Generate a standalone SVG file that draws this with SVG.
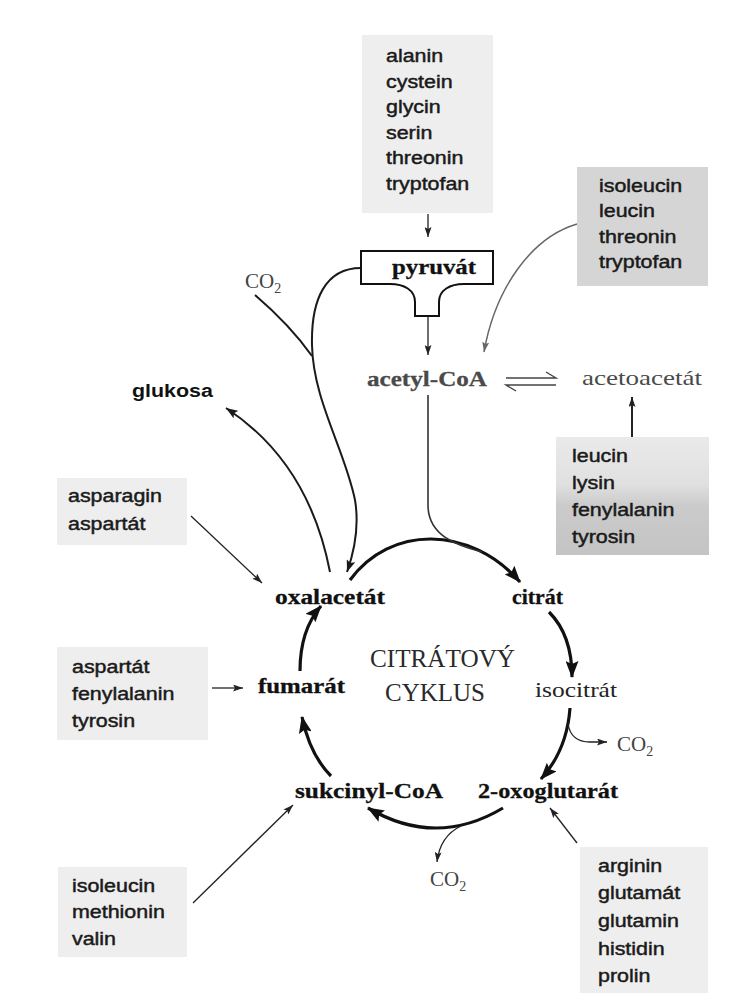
<svg xmlns="http://www.w3.org/2000/svg" width="753" height="994" viewBox="0 0 753 994">
  <style>
    .aa { font-family: "Liberation Sans", Arial, sans-serif; font-size: 18px; fill: #1a1a1a; stroke: #1a1a1a; stroke-width: 0.45; }
    .aab { font-family: "Liberation Sans", Arial, sans-serif; font-size: 18px; font-weight: bold; fill: #111; }
    .met { font-family: "Liberation Serif", "Times New Roman", serif; font-size: 22px; font-weight: bold; fill: #111; stroke: #111; stroke-width: 0.3; }
    .metr { font-family: "Liberation Serif", "Times New Roman", serif; font-size: 22px; fill: #222; }
    .grey { fill: #4a4a4a; stroke: #4a4a4a; }
    .greytxt { fill: #4a4a4a; }
    .co2 { font-family: "Liberation Serif", "Times New Roman", serif; font-size: 21px; fill: #444; }
    .title { font-family: "Liberation Serif", "Times New Roman", serif; font-size: 25px; fill: #2a2a2a; }
    .box-light { fill: #eeeeee; }
    .box-dark { fill: #d5d5d5; }
    .cyc { fill: none; stroke: #111; stroke-width: 3.2; marker-end: url(#bigHead); }
    .thick { fill: none; stroke: #1a1a1a; stroke-width: 2; }
    .thin { fill: none; stroke: #222; stroke-width: 1.3; marker-end: url(#smallHead); }
  </style>
  <defs>
    <marker id="bigHead" viewBox="0 0 17 13" refX="16" refY="6.5" markerWidth="17" markerHeight="13" markerUnits="userSpaceOnUse" orient="auto">
      <path d="M0,0 L17,6.5 L0,13 L3,6.5 Z" fill="#111"/>
    </marker>
    <marker id="smallHead" viewBox="0 0 10 7" refX="10" refY="3.5" markerWidth="10" markerHeight="7" markerUnits="userSpaceOnUse" orient="auto">
      <path d="M0,0 L10,3.5 L0,7 L2,3.5 Z" fill="#222"/>
    </marker>
    <marker id="midHead" viewBox="0 0 12 9" refX="12" refY="4.5" markerWidth="12" markerHeight="9" markerUnits="userSpaceOnUse" orient="auto">
      <path d="M0,0 L12,4.5 L0,9 L2.5,4.5 Z" fill="#1a1a1a"/>
    </marker>
    <marker id="greyHead" viewBox="0 0 10 7" refX="10" refY="3.5" markerWidth="10" markerHeight="7" markerUnits="userSpaceOnUse" orient="auto">
      <path d="M0,0 L10,3.5 L0,7 L2,3.5 Z" fill="#666"/>
    </marker>
    <linearGradient id="ketoFill" x1="0" y1="0" x2="0" y2="1">
      <stop offset="0" stop-color="#eaeaea"/>
      <stop offset="0.4" stop-color="#e0e0e0"/>
      <stop offset="0.58" stop-color="#cbcbcb"/>
      <stop offset="1" stop-color="#c4c4c4"/>
    </linearGradient>
  </defs>

  <rect width="753" height="994" fill="#ffffff"/>

  <!-- connectors -->
  <g id="connectors">
    <!-- citric acid cycle arcs -->
    <path class="cyc" d="M350,580 C390,525 470,525 520,582"/>
    <path class="cyc" d="M549,612 Q572,635 572,677"/>
    <path class="cyc" d="M570,708 Q567,750 541,779"/>
    <path class="cyc" d="M503,808 Q436,848 368,808"/>
    <path class="cyc" d="M331,776 Q310,755 302,717"/>
    <path class="cyc" d="M300,671 Q300,630 321,606"/>

    <!-- CO2 side branches of the cycle -->
    <path class="thin" d="M568,724 C570,736 578,742 590,742 L607,742"/>
    <path class="thin" d="M461,826 Q440,836 437,862"/>

    <!-- amino acid feeders -->
    <path class="thin" d="M428,214 V237"/>
    <path class="thin" d="M428,316 V355"/>
    <path fill="none" stroke="#666" stroke-width="1.5" marker-end="url(#greyHead)" d="M577,224 C530,238 495,290 484,352"/>
    <path fill="none" stroke="#222" stroke-width="2" marker-end="url(#smallHead)" d="M632,437 V397"/>
    <path class="thin" d="M191,516 L262,583"/>
    <path class="thin" d="M212,688 L243,688"/>
    <path class="thin" d="M193,903 L293,805"/>
    <path class="thin" d="M577,843 L550,808"/>

    <!-- acetyl-CoA into the cycle -->
    <path fill="none" stroke="#333" stroke-width="1.6" d="M428,395 V505 C428,535 455,545 482,552"/>

    <!-- acetyl-CoA / acetoacetate equilibrium -->
    <path fill="none" stroke="#444" stroke-width="1.4" d="M506,378 H556 L546,372"/>
    <path fill="none" stroke="#444" stroke-width="1.4" d="M556,385 H506 L516,391"/>

    <!-- pyruvate carboxylation to oxaloacetate, CO2 joining -->
    <path class="thick" marker-end="url(#midHead)" d="M361,268 C325,268 311,300 312,345 C313,400 345,450 355,500 C360,530 353,555 347,572"/>
    <path class="thick" d="M255,295 Q290,325 312,356"/>

    <!-- oxaloacetate to glucose -->
    <path class="thick" marker-end="url(#midHead)" d="M330,572 C318,510 290,450 226,408"/>
  </g>

  <!-- nodes: amino acid boxes -->
  <g id="box-pyruvate-aa">
    <rect class="box-light" x="362" y="35" width="131" height="178"/>
    <g transform="translate(386 0) scale(1.19 1)">
      <text class="aa" y="62">alanin</text>
      <text class="aa" y="88">cystein</text>
      <text class="aa" y="113">glycin</text>
      <text class="aa" y="139">serin</text>
      <text class="aa" y="164">threonin</text>
      <text class="aa" y="190">tryptofan</text>
    </g>
  </g>

  <g id="box-acetylcoa-aa">
    <rect class="box-dark" x="577" y="167" width="131" height="119"/>
    <g transform="translate(599 0) scale(1.19 1)">
      <text class="aa" y="192">isoleucin</text>
      <text class="aa" y="217">leucin</text>
      <text class="aa" y="243">threonin</text>
      <text class="aa" y="268">tryptofan</text>
    </g>
  </g>

  <g id="box-acetoacetate-aa">
    <rect fill="url(#ketoFill)" x="556" y="437" width="153" height="118"/>
    <g transform="translate(572 0) scale(1.19 1)">
      <text class="aa" y="462">leucin</text>
      <text class="aa" y="489">lysin</text>
      <text class="aa" y="516">fenylalanin</text>
      <text class="aa" y="543">tyrosin</text>
    </g>
  </g>

  <g id="box-oxaloacetate-aa">
    <rect class="box-light" x="57" y="478" width="130" height="67"/>
    <g transform="translate(68 0) scale(1.19 1)">
      <text class="aa" y="502">asparagin</text>
      <text class="aa" y="530">aspartát</text>
    </g>
  </g>

  <g id="box-fumarate-aa">
    <rect class="box-light" x="57" y="647" width="151" height="93"/>
    <g transform="translate(72 0) scale(1.19 1)">
      <text class="aa" y="673">aspartát</text>
      <text class="aa" y="700">fenylalanin</text>
      <text class="aa" y="727">tyrosin</text>
    </g>
  </g>

  <g id="box-succinylcoa-aa">
    <rect class="box-light" x="58" y="867" width="129" height="90"/>
    <g transform="translate(72 0) scale(1.19 1)">
      <text class="aa" y="892">isoleucin</text>
      <text class="aa" y="918">methionin</text>
      <text class="aa" y="945">valin</text>
    </g>
  </g>

  <g id="box-oxoglutarate-aa">
    <rect class="box-light" x="580" y="847" width="128" height="146"/>
    <g transform="translate(598 0) scale(1.19 1)">
      <text class="aa" y="872">arginin</text>
      <text class="aa" y="899">glutamát</text>
      <text class="aa" y="927">glutamin</text>
      <text class="aa" y="955">histidin</text>
      <text class="aa" y="982">prolin</text>
    </g>
  </g>

  <!-- nodes: metabolites -->
  <g id="pyruvate">
    <path d="M361,251 H493 V284 H464 C450,284 439,290 439,302 V316 H415 V302 C415,290 404,284 390,284 H361 Z" fill="#fff" stroke="#111" stroke-width="2"/>
    <text class="met" x="392" y="274" textLength="84" lengthAdjust="spacingAndGlyphs">pyruvát</text>
  </g>

  <g id="acetyl-coa">
    <text class="met grey" x="367" y="386" textLength="120" lengthAdjust="spacingAndGlyphs">acetyl-CoA</text>
  </g>

  <g id="acetoacetate">
    <text class="metr greytxt" x="582" y="385" textLength="120" lengthAdjust="spacingAndGlyphs">acetoacetát</text>
  </g>

  <g id="glucose">
    <text class="aab" transform="translate(132 397) scale(1.19 1)">glukosa</text>
  </g>

  <g id="co2-pyruvate">
    <text class="co2" x="245" y="288">CO<tspan font-size="14" dy="5">2</tspan></text>
  </g>

  <g id="oxaloacetate">
    <text class="met" x="275" y="604" textLength="110" lengthAdjust="spacingAndGlyphs">oxalacetát</text>
  </g>

  <g id="citrate">
    <text class="met" x="512" y="604" textLength="51" lengthAdjust="spacingAndGlyphs">citrát</text>
  </g>

  <g id="isocitrate">
    <text class="metr" x="535" y="697" textLength="82" lengthAdjust="spacingAndGlyphs">isocitrát</text>
  </g>

  <g id="co2-isocitrate">
    <text class="co2" x="617" y="751">CO<tspan font-size="14" dy="5">2</tspan></text>
  </g>

  <g id="oxoglutarate">
    <text class="met" x="478" y="798" textLength="140" lengthAdjust="spacingAndGlyphs">2-oxoglutarát</text>
  </g>

  <g id="co2-oxoglutarate">
    <text class="co2" x="430" y="886">CO<tspan font-size="14" dy="5">2</tspan></text>
  </g>

  <g id="succinyl-coa">
    <text class="met" x="295" y="798" textLength="148" lengthAdjust="spacingAndGlyphs">sukcinyl-CoA</text>
  </g>

  <g id="fumarate">
    <text class="met" x="258" y="693" textLength="87" lengthAdjust="spacingAndGlyphs">fumarát</text>
  </g>

  <g id="cycle-title">
    <text class="title" x="370" y="667" textLength="145" lengthAdjust="spacingAndGlyphs">CITRÁTOVÝ</text>
    <text class="title" x="385" y="701" textLength="100" lengthAdjust="spacingAndGlyphs">CYKLUS</text>
  </g>
</svg>
